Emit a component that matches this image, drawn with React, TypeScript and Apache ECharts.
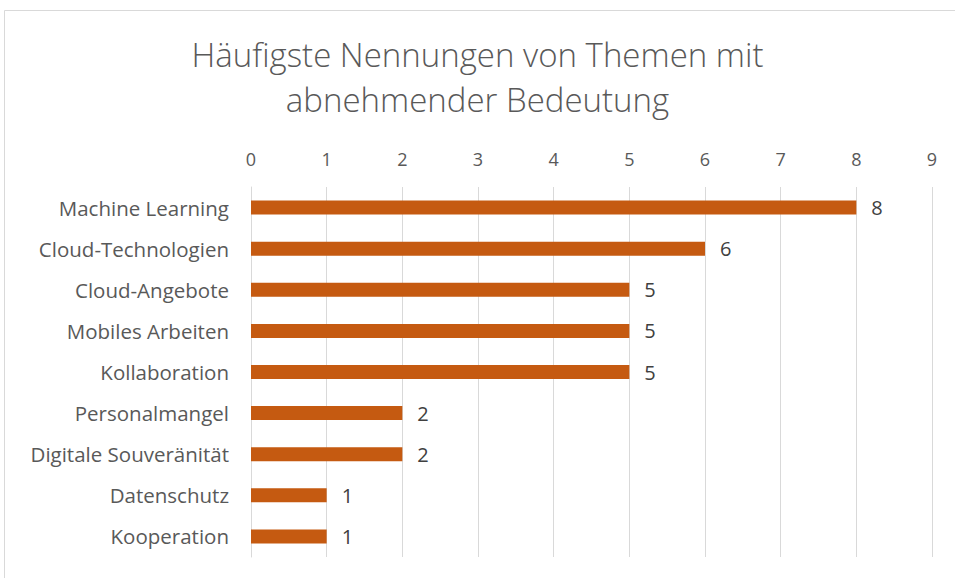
import React, { useEffect, useRef } from "react";
import * as echarts from "echarts";

const titleLines = ["Häufigste Nennungen von Themen mit", "abnehmender Bedeutung"];
const categories = [
  "Machine Learning",
  "Cloud-Technologien",
  "Cloud-Angebote",
  "Mobiles Arbeiten",
  "Kollaboration",
  "Personalmangel",
  "Digitale Souveränität",
  "Datenschutz",
  "Kooperation",
];
const values = [8, 6, 5, 5, 5, 2, 2, 1, 1];
const axisMin = 0;
const axisMax = 9;
const axisInterval = 1;

const FONT = "'Open Sans', 'Noto Sans', sans-serif";

export default function App() {
  const ref = useRef<HTMLDivElement>(null);
  useEffect(() => {
    if (!ref.current) return;
    const chart = echarts.init(ref.current, undefined, { renderer: "svg" });
    chart.setOption({
      animation: false,
      backgroundColor: "#ffffff",
      title: {
        text: titleLines.join("\n"),
        left: "center",
        top: 27,
        textStyle: {
          fontFamily: FONT,
          fontSize: 33,
          fontWeight: 300,
          color: "#595959",
          lineHeight: 45,
        },
      },
      graphic: [
        {
          type: "rect",
          shape: { x: 4.5, y: 10.5, width: 970, height: 600 },
          style: { fill: "none", stroke: "#d9d9d9", lineWidth: 1 },
          silent: true,
        },
      ],
      grid: { left: 251, right: 23, top: 187, bottom: 21, containLabel: false },
      xAxis: {
        type: "value",
        position: "top",
        min: axisMin,
        max: axisMax,
        interval: axisInterval,
        axisLine: { show: false },
        axisTick: { show: false },
        splitLine: { show: true, lineStyle: { color: "#d9d9d9", width: 1 } },
        axisLabel: { fontFamily: FONT, fontSize: 18, color: "#595959", margin: 19 },
      },
      yAxis: {
        type: "category",
        data: categories,
        inverse: true,
        axisLine: { show: true, lineStyle: { color: "#d9d9d9", width: 1 } },
        axisTick: { show: false },
        axisLabel: { fontFamily: FONT, fontSize: 20.5, color: "#595959", margin: 22 },
      },
      series: [
        {
          type: "bar",
          data: values,
          barWidth: 14,
          itemStyle: { color: "#C55A11" },
          label: {
            show: true,
            position: "right",
            distance: 15,
            fontFamily: FONT,
            fontSize: 20,
            color: "#404040",
          },
        },
      ],
    });
    return () => chart.dispose();
  }, []);
  return (
    <div
      ref={ref}
      style={{ position: "fixed", left: 0, top: 0, width: 955, height: 578 }}
    />
  );
}
